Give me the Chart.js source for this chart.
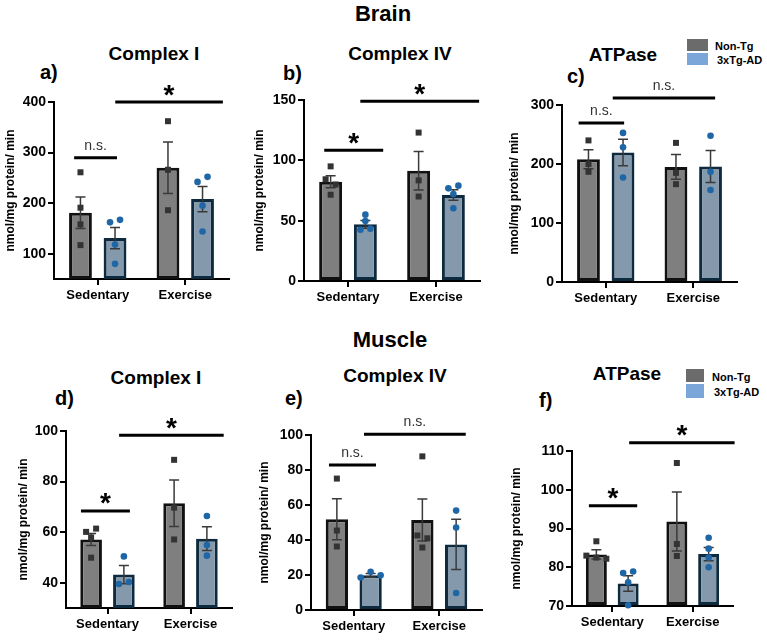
<!DOCTYPE html>
<html>
<head>
<meta charset="utf-8">
<title>Brain and muscle mitochondrial enzyme activity</title>
<script src="https://cdn.jsdelivr.net/npm/chart.js@4.4.1/dist/chart.umd.min.js"></script>
<style>
  body { margin: 0; background: #fff; }
  #fig { position: relative; width: 767px; height: 641px; font-family: 'Liberation Sans', Arial, sans-serif; color: #000; overflow: hidden; }
  #fig canvas { position: absolute; }
  .t { position: absolute; font-weight: bold; white-space: nowrap; line-height: 1; transform: translate(-50%, -50%); }
  .sec { font-size: 22px; }
  .ttl { font-size: 19px; }
  .let { font-size: 20px; transform: translate(0, -50%); }
  .lg { position: absolute; font-size: 11px; font-weight: bold; line-height: 1; white-space: nowrap; transform: translate(0, -50%); }
  .sw { position: absolute; }
</style>
</head>
<body>
<div id="fig">
  <div class="t sec" style="left:383px; top:14px">Brain</div>
  <div class="t sec" style="left:390px; top:340px">Muscle</div>

  <div class="t ttl" style="left:154px; top:53px">Complex I</div>
  <div class="t ttl" style="left:400px; top:53px">Complex IV</div>
  <div class="t ttl" style="left:623px; top:54px">ATPase</div>
  <div class="t ttl" style="left:156px; top:377px">Complex I</div>
  <div class="t ttl" style="left:395px; top:375px">Complex IV</div>
  <div class="t ttl" style="left:627px; top:373px">ATPase</div>

  <div class="t let" style="left:40px; top:72px">a)</div>
  <div class="t let" style="left:283px; top:73px">b)</div>
  <div class="t let" style="left:567px; top:76px">c)</div>
  <div class="t let" style="left:55px; top:398px">d)</div>
  <div class="t let" style="left:285px; top:398px">e)</div>
  <div class="t let" style="left:539px; top:400px">f)</div>

  <div class="sw" style="left:687px; top:39px; width:21px; height:12px; background:#6b6b6b"></div>
  <div class="sw" style="left:687px; top:53px; width:21px; height:12px; background:#7ba6da"></div>
  <div class="lg" style="left:715px; top:46px">Non-Tg</div>
  <div class="lg" style="left:717px; top:60px">3xTg-AD</div>

  <div class="sw" style="left:686px; top:369px; width:18px; height:13px; background:#6b6b6b"></div>
  <div class="sw" style="left:686px; top:384px; width:18px; height:14px; background:#7ba6da"></div>
  <div class="lg" style="left:712px; top:377px">Non-Tg</div>
  <div class="lg" style="left:714px; top:392px">3xTg-AD</div>

  <canvas id="chartA"></canvas>
  <canvas id="chartB"></canvas>
  <canvas id="chartC"></canvas>
  <canvas id="chartD"></canvas>
  <canvas id="chartE"></canvas>
  <canvas id="chartF"></canvas>
</div>
<script>
// groups and series
const groups = ['Sedentary', 'Exercise'];
const seriesNames = ['Non-Tg', '3xTg-AD'];

// a) brain complex I
const brainC1NonTg = [181, 270];
const brainC1NonTgSem = [31, 51];
const brainC1NonTgPts = [[261, 191, 158, 117], [362, 266, 186]];
const brainC1Tg = [131, 208];
const brainC1TgSem = [21, 25];
const brainC1TgPts = [[162, 167, 118, 80], [242, 252, 195, 144]];
const brainC1Ticks = [100, 200, 300, 400];

// b) brain complex IV
const brainC4NonTg = [82.3, 91.4];
const brainC4NonTgSem = [5, 16];
const brainC4NonTgPts = [[95, 84.3, 80, 71.5], [123, 83.4, 70]];
const brainC4Tg = [47, 71.3];
const brainC4TgSem = [3.2, 4.3];
const brainC4TgPts = [[55, 49.7, 42.5, 43.4], [76.8, 79, 72.1, 60.2]];
const brainC4Ticks = [0, 50, 100, 150];

// c) brain ATPase
const brainAtpNonTg = [208, 195];
const brainAtpNonTgSem = [16, 21];
const brainAtpNonTgPts = [[240, 200, 186.7], [235.8, 185, 165.8]];
const brainAtpTg = [219.4, 195.7];
const brainAtpTgSem = [22.5, 27];
const brainAtpTgPts = [[252.7, 228.4, 177], [248, 186.7, 156]];
const brainAtpTicks = [0, 100, 200, 300];

// d) muscle complex I
const muscleC1NonTg = [57.1, 71.4];
const muscleC1NonTgSem = [2.4, 9.2];
const muscleC1NonTgPts = [[60.1, 61.4, 57.9, 49.9], [88.6, 69.7, 57.1]];
const muscleC1Tg = [43.2, 57.4];
const muscleC1TgSem = [3.6, 4.7];
const muscleC1TgPts = [[50.4, 39.5, 40.3], [66.4, 54.9, 50.7]];
const muscleC1Ticks = [40, 60, 80, 100];

// e) muscle complex IV
const muscleC4NonTg = [51.9, 51.5];
const muscleC4NonTgSem = [11.7, 12];
const muscleC4NonTgPts = [[75.1, 45.4, 36.3], [87.8, 42.6, 35.7, 41]];
const muscleC4Tg = [19.8, 37.5];
const muscleC4TgSem = [1.1, 14.3];
const muscleC4TgPts = [[18.6, 21.9, 19.8], [56.8, 47.1, 9.7]];
const muscleC4Ticks = [0, 20, 40, 60, 80, 100];

// f) muscle ATPase
const muscleAtpNonTg = [83.3, 91.8];
const muscleAtpNonTgSem = [1.2, 7.6];
const muscleAtpNonTgPts = [[86.7, 83.0, 82.5, 82.2], [106.9, 86, 82.9]];
const muscleAtpTg = [75.8, 83.4];
const muscleAtpTgSem = [2, 1.7];
const muscleAtpTgPts = [[78.5, 78.9, 76.1, 70.2], [87.6, 84.8, 82.5, 80]];
const muscleAtpTicks = [70, 80, 90, 100, 110];

const font = "'Liberation Sans', Arial, sans-serif";
const hX = 25;      // x axis box height
const extra = {};   // per canvas: dot lists and brackets

// panels: canvas box, axis range, significance brackets [from, to, level, label]
const panels = [
  { id: 'chartA', L: 1, T: 80, W: 240, H: 224, wY: 53, pt: 22, pr: 12, min: 50, max: 400,
    nonTg: brainC1NonTg, nonTgSem: brainC1NonTgSem, nonTgPts: brainC1NonTgPts,
    tg: brainC1Tg, tgSem: brainC1TgSem, tgPts: brainC1TgPts, ticks: brainC1Ticks,
    sig: [[-0.27, 0.22, 290, 'n.s.'], [0.20, 1.43, 400, '*']] },
  { id: 'chartB', L: 250, T: 80, W: 240, H: 226, wY: 54, pt: 20, pr: 10, min: 0, max: 150,
    nonTg: brainC4NonTg, nonTgSem: brainC4NonTgSem, nonTgPts: brainC4NonTgPts,
    tg: brainC4Tg, tgSem: brainC4TgSem, tgPts: brainC4TgPts, ticks: brainC4Ticks,
    sig: [[-0.27, 0.40, 108.3, '*'], [0.14, 1.49, 149, '*']] },
  { id: 'chartC', L: 505, T: 70, W: 244, H: 237, wY: 57, pt: 35, pr: 12, min: 0, max: 300,
    nonTg: brainAtpNonTg, nonTgSem: brainAtpNonTgSem, nonTgPts: brainAtpNonTgPts,
    tg: brainAtpTg, tgSem: brainAtpTgSem, tgPts: brainAtpTgPts, ticks: brainAtpTicks,
    sig: [[-0.31, 0.21, 269.6, 'n.s.'], [0.08, 1.25, 312, 'n.s.']] },
  { id: 'chartD', L: 14, T: 405, W: 230, H: 228, wY: 52, pt: 26, pr: 12, min: 30, max: 100,
    nonTg: muscleC1NonTg, nonTgSem: muscleC1NonTgSem, nonTgPts: muscleC1NonTgPts,
    tg: muscleC1Tg, tgSem: muscleC1TgSem, tgPts: muscleC1TgPts, ticks: muscleC1Ticks,
    sig: [[-0.32, 0.27, 68.4, '*'], [0.14, 1.40, 98.3, '*']] },
  { id: 'chartE', L: 255, T: 405, W: 239, H: 230, wY: 56, pt: 30, pr: 12, min: 0, max: 100,
    nonTg: muscleC4NonTg, nonTgSem: muscleC4NonTgSem, nonTgPts: muscleC4NonTgPts,
    tg: muscleC4Tg, tgSem: muscleC4TgSem, tgPts: muscleC4TgPts, ticks: muscleC4Ticks,
    sig: [[-0.29, 0.26, 82.9, 'n.s.'], [0.12, 1.31, 100.4, 'n.s.']] },
  { id: 'chartF', L: 507, T: 415, W: 238, H: 216, wY: 65, pt: 36, pr: 12, min: 70, max: 110,
    nonTg: muscleAtpNonTg, nonTgSem: muscleAtpNonTgSem, nonTgPts: muscleAtpNonTgPts,
    tg: muscleAtpTg, tgSem: muscleAtpTgSem, tgPts: muscleAtpTgPts, ticks: muscleAtpTicks,
    sig: [[-0.29, 0.31, 95.9, '*'], [0.21, 1.52, 112.1, '*']] }
];

// sideways offsets (px) for dots at about the same height, like Prism does
function spread(vals, thr, step) {
  const order = vals.map((v, i) => i).sort((a, b) => vals[b] - vals[a]);
  const xs = [];
  let grp = [];
  const flush = () => {
    grp.sort((a, b) => a - b).forEach((k, j) => { xs[k] = (j - (grp.length - 1) / 2) * step; });
    grp = [];
  };
  order.forEach(k => {
    if (grp.length && vals[grp[0]] - vals[k] > thr) flush();
    grp.push(k);
  });
  flush();
  return xs;
}

const overlay = {
  id: 'overlay',
  afterDatasetsDraw(chart) {
    const ctx = chart.ctx, x = chart.scales.x, y = chart.scales.y;
    const info = extra[chart.canvas.id];
    ctx.save();
    // error bars (mean +/- SEM)
    chart.data.datasets.forEach((ds, di) => {
      const meta = chart.getDatasetMeta(di);
      ctx.strokeStyle = '#3a3a3a';
      ctx.lineWidth = 1.5;
      meta.data.forEach((bar, i) => {
        const top = y.getPixelForValue(ds.data[i] + ds.sem[i]);
        const bot = y.getPixelForValue(ds.data[i] - ds.sem[i]);
        ctx.beginPath();
        ctx.moveTo(bar.x, top); ctx.lineTo(bar.x, bot);
        ctx.moveTo(bar.x - 5, top); ctx.lineTo(bar.x + 5, top);
        ctx.moveTo(bar.x - 5, bot); ctx.lineTo(bar.x + 5, bot);
        ctx.stroke();
      });
      // individual animals
      const thr = 6 * (y.max - y.min) / (y.bottom - y.top);
      ds.pts.forEach((vals, g) => {
        const cx = meta.data[g].x;
        const offs = spread(vals, thr, 10);
        vals.forEach((v, k) => {
          const px = cx + offs[k], py = y.getPixelForValue(v);
          ctx.fillStyle = ds.dotColor;
          ctx.beginPath();
          if (ds.dotStyle === 'rect') ctx.rect(px - 3, py - 3, 6, 6);
          else ctx.arc(px, py, 3.3, 0, Math.PI * 2);
          ctx.fill();
        });
      });
    });
    // significance brackets
    info.sig.forEach(([a, b, level, label]) => {
      const x0 = x.getPixelForValue(a), x1 = x.getPixelForValue(b), yy = y.getPixelForValue(level);
      ctx.strokeStyle = '#000';
      ctx.lineWidth = 3;
      ctx.beginPath(); ctx.moveTo(x0, yy); ctx.lineTo(x1, yy); ctx.stroke();
      const star = label === '*';
      ctx.font = star ? 'bold 28px ' + font : '14px ' + font;
      ctx.fillStyle = star ? '#000' : '#333';
      ctx.textAlign = 'center';
      ctx.textBaseline = 'alphabetic';
      const m = ctx.measureText(label);
      const cy = yy - 12;
      ctx.fillText(label, (x0 + x1) / 2, cy + (m.actualBoundingBoxAscent - m.actualBoundingBoxDescent) / 2);
    });
    ctx.restore();
  }
};

function axisLine() {
  return {
    border: { display: true, color: '#000', width: 2 },
    grid: { display: true, drawOnChartArea: false, drawTicks: true, tickLength: 6, color: '#000', lineWidth: 2, offset: false }
  };
}

function makeChart(p) {
  const canvas = document.getElementById(p.id);
  canvas.width = p.W; canvas.height = p.H;
  canvas.style.left = p.L + 'px'; canvas.style.top = p.T + 'px';
  canvas.style.width = p.W + 'px'; canvas.style.height = p.H + 'px';
  extra[p.id] = { sig: p.sig };

  return new Chart(canvas, {
    type: 'bar',
    data: {
      labels: groups,
      datasets: [
        { label: seriesNames[0], data: p.nonTg, sem: p.nonTgSem, pts: p.nonTgPts,
          dotStyle: 'rect', dotColor: '#333',
          backgroundColor: '#7f7f7f', borderColor: '#111', borderWidth: 3, borderSkipped: false, base: p.min },
        { label: seriesNames[1], data: p.tg, sem: p.tgSem, pts: p.tgPts,
          dotStyle: 'circle', dotColor: '#1f66a6',
          backgroundColor: '#8599ac', borderColor: '#0e2a3e', borderWidth: 3, borderSkipped: false, base: p.min }
      ]
    },
    options: {
      responsive: false,
      animation: false,
      devicePixelRatio: 1,
      barPercentage: 0.66,
      categoryPercentage: 0.79,
      layout: { padding: { top: p.pt, right: p.pr, left: 0, bottom: 0 } },
      plugins: { legend: { display: false }, tooltip: { enabled: false } },
      scales: {
        x: Object.assign(axisLine(), {
          type: 'category',
          offset: true,
          ticks: { color: '#000', font: { family: font, size: 13, weight: 'bold' }, padding: 3 },
          afterFit: s => { s.height = hX; }
        }),
        y: Object.assign(axisLine(), {
          type: 'linear',
          min: p.min,
          max: p.max,
          afterBuildTicks: s => { s.ticks = p.ticks.map(v => ({ value: v })); },
          ticks: { color: '#000', font: { family: font, size: 14, weight: 'bold' }, padding: 2 },
          title: { display: true, text: 'nmol/mg protein/ min', color: '#000',
                   font: { family: font, size: 12, weight: 'bold' }, padding: { top: 2, bottom: 0 } },
          afterFit: s => { s.width = p.wY; }
        })
      }
    },
    plugins: [overlay]
  });
}

panels.forEach(makeChart);
</script>
</body>
</html>
